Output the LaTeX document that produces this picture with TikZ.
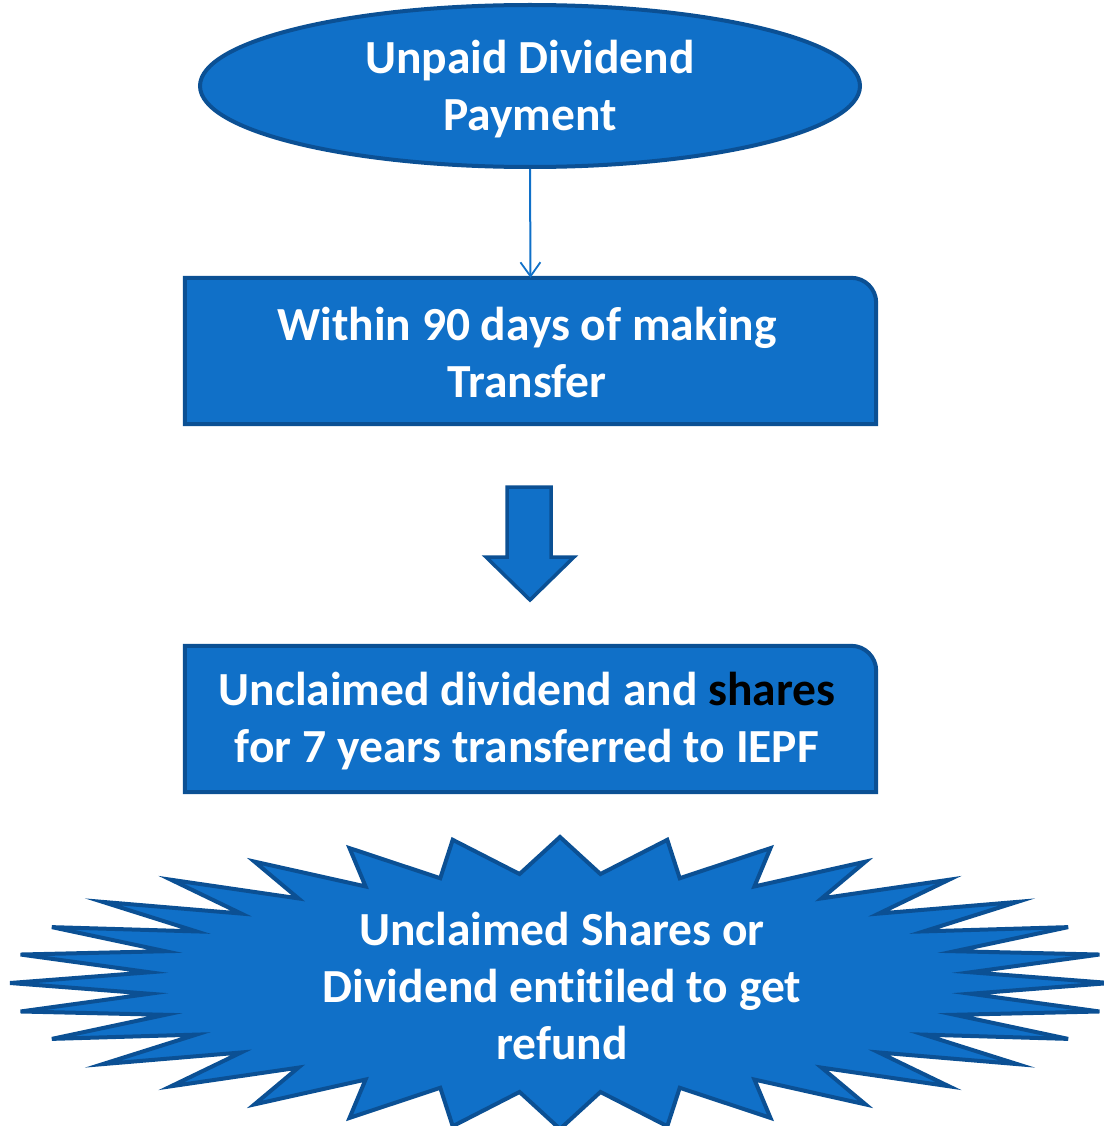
\documentclass[tikz,border=0pt]{standalone}
\usepackage{fontspec}
\setmainfont{Carlito}[Ligatures=CommonOff]
\usetikzlibrary{shapes.geometric,arrows.meta}
\definecolor{boxfill}{RGB}{16,112,200}
\definecolor{boxedge}{RGB}{11,80,148}
\begin{document}
\begin{tikzpicture}[x=1pt,y=-1pt,
  label/.style={text=white,font=\bfseries\fontsize{47.5}{57}\selectfont,align=center},
  shapeline/.style={draw=boxedge,line width=4pt,fill=boxfill,line join=miter},
  flowline/.style={draw=boxfill,line width=2pt,-{Straight Barb[length=14pt,width=20pt,line width=1.8pt]}}]
\useasboundingbox (0,0) rectangle (1103,1126);

% start ellipse
\node[ellipse,shapeline,minimum width=660pt,minimum height=162pt,inner sep=0pt] (start) at (530,86) {};
\node[label] (starttext) at (530,89) {Unpaid Dividend\\Payment};

% first step box (top right corner rounded)
\node[rectangle,minimum width=691pt,minimum height=146pt,inner sep=0pt] (within) at (530.5,351) {};
\path[shapeline] (within.south west) -- (within.north west) -- ([xshift=-25pt]within.north east)
  arc[start angle=90,end angle=0,radius=25pt] -- (within.south east) -- cycle;
\node[label] (withintext) at (527,353) {Within 90 days of making\\Transfer};

\draw[flowline] (start.south) -- (within.north);

% block arrow between the boxes
\path[shapeline,line width=3.5pt] (507,487) -- (551,487) -- (551,557) -- (574,557) -- (530,600)
  -- (486,557) -- (507,557) -- cycle;

% second step box
\node[rectangle,minimum width=691pt,minimum height=146pt,inner sep=0pt] (iepf) at (530.5,719) {};
\path[shapeline] (iepf.south west) -- (iepf.north west) -- ([xshift=-25pt]iepf.north east)
  arc[start angle=90,end angle=0,radius=25pt] -- (iepf.south east) -- cycle;
\node[label] (iepftext) at (527,721) {Unclaimed dividend and \textcolor{black}{shares}\\for 7 years transferred to IEPF};

% 32-point star
\path[shapeline] plot[samples=65,domain=0:64,variable=\t]
  ({560+550*(0.875+0.125*cos(\t*180))*sin(\t*5.625)},{983-146*(0.875+0.125*cos(\t*180))*cos(\t*5.625)}) -- cycle;
\node[label] (refund) at (562,986) {Unclaimed Shares or\\Dividend entitiled to get\\refund};
\end{tikzpicture}
\end{document}
